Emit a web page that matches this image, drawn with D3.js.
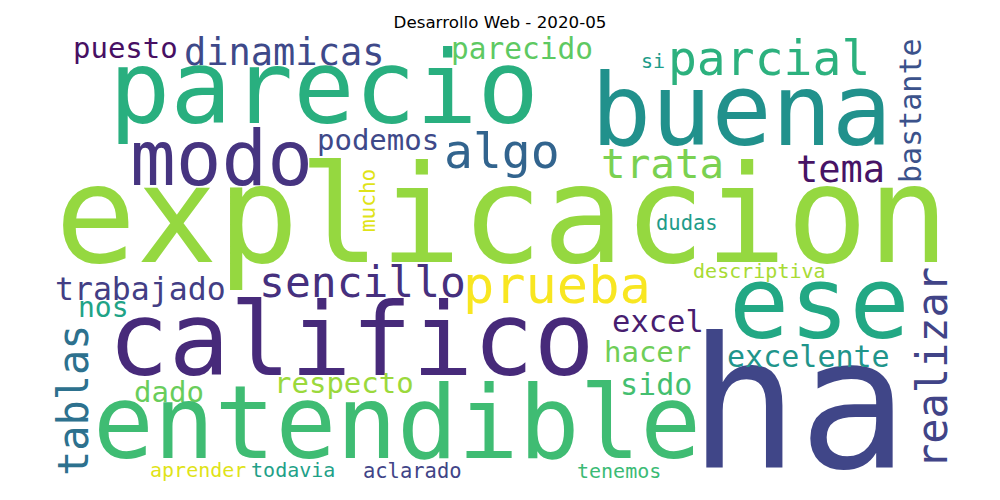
<!DOCTYPE html>
<style>
body { margin: 0; background: #fff; }
</style>
<svg width="1000" height="500"></svg>
<script src="https://d3js.org/d3.v7.min.js"></script>
<script>

// word cloud layout, in the 800x400 canvas units of the original cloud
var words = ["explicacion", "parecio", "buena", "modo", "dinamicas", "puesto", "parecido", "parcial",
             "si", "bastante", "algo", "podemos", "trata", "tema", "mucho", "dudas",
             "sencillo", "prueba", "trabajado", "nos", "tablas", "califico", "ese", "realizar",
             "ha", "excel", "hacer", "excelente", "sido", "tenemos", "descriptiva", "respecto",
             "dado", "entendible", "aprender", "todavia", "aclarado"];
var weights = [120.0, 90.7, 88.9, 67.6, 32.9, 25.8, 26.2, 42.7,
               17.8, 26.7, 42.7, 25.8, 36.4, 32.9, 18.7, 18.2,
               38.2, 46.2, 28.0, 24.9, 37.3, 89.8, 88.9, 37.3,
               161.8, 27.1, 25.8, 26.7, 26.7, 17.8, 17.8, 25.8,
               25.8, 89.8, 17.8, 17.8, 18.2];
var cloudX = [4.4, 52.4, 480.9, 71.1, 119.1, 20.4, 356.4, 549.3,
              525.3, 774.2, 350.2, 237.3, 489.8, 663.1, 288.9, 538.7,
              185.8, 367.1, 4.4, 24.9, 33.8, 51.6, 603.6, 797.3,
              568.0, 499.6, 492.4, 601.8, 506.7, 468.4, 571.6, 199.1,
              74.7, 38.2, 88.9, 178.7, 278.2];
var cloudY = [206.2, 82.7, 102.2, 137.8, 31.1, 24.9, 25.8, 40.0,
              33.8, 136.0, 122.7, 106.7, 131.6, 135.1, 179.6, 177.8,
              237.3, 242.7, 240.0, 255.1, 396.4, 306.7, 273.8, 390.2,
              388.4, 268.4, 295.1, 299.6, 324.4, 398.2, 220.4, 322.7,
              330.7, 380.4, 397.3, 397.3, 398.2];
var vertical = [0, 0, 0, 0, 0, 0, 0, 0,
                0, 1, 0, 0, 0, 0, 1, 0,
                0, 0, 0, 0, 1, 0, 0, 1,
                0, 0, 0, 0, 0, 0, 0, 0,
                0, 0, 0, 0, 0];
var tones = [0.84, 0.63, 0.50, 0.15, 0.22, 0.04, 0.75, 0.64,
             0.55, 0.25, 0.32, 0.22, 0.80, 0.05, 0.95, 0.55,
             0.14, 0.99, 0.18, 0.58, 0.37, 0.12, 0.60, 0.20,
             0.21, 0.08, 0.78, 0.52, 0.70, 0.68, 0.87, 0.85,
             0.77, 0.69, 0.95, 0.57, 0.20];
var title = "Desarrollo Web - 2020-05";

var svg = d3.select("svg"),
    margin = {top: 30, left: 50},
    width = 900,
    height = 450;

svg.append("rect")
    .attr("width", 1000)
    .attr("height", 500)
    .attr("fill", "#fff");

var x = d3.scaleLinear().domain([0, 800]).range([margin.left, margin.left + width]),
    y = d3.scaleLinear().domain([0, 400]).range([margin.top, margin.top + height]),
    size = d3.scaleLinear().domain([0, 800]).range([0, width]);

var data = words.map(function(w, i) {
  return {text: w, weight: weights[i], x: cloudX[i], y: cloudY[i], rot: vertical[i], tone: tones[i]};
});

svg.append("g")
    .attr("font-family", "'DejaVu Sans Mono', monospace")
  .selectAll("text")
  .data(data)
  .enter().append("text")
    .attr("transform", function(d) {
      return "translate(" + x(d.x) + "," + y(d.y) + ")" + (d.rot ? " rotate(-90)" : "");
    })
    .attr("font-size", function(d) { return size(d.weight); })
    .attr("fill", function(d) { return d3.interpolateViridis(d.tone); })
    .text(function(d) { return d.text; });

svg.append("text")
    .attr("x", 500)
    .attr("y", 28)
    .attr("text-anchor", "middle")
    .attr("font-family", "'DejaVu Sans', sans-serif")
    .attr("font-size", 16.7)
    .attr("fill", "#000")
    .text(title);

</script>
